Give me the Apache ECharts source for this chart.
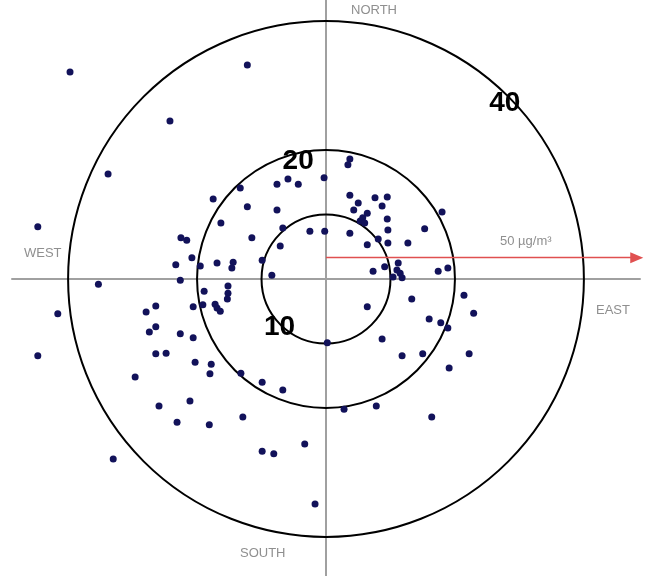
<!DOCTYPE html>
<html>
<head>
<meta charset="utf-8">
<script src="https://cdn.jsdelivr.net/npm/echarts@6/dist/echarts.min.js"></script>
<style>
html, body { margin: 0; padding: 0; background: #fff; }
#chart { width: 646px; height: 576px; }
</style>
</head>
<body>
<div id="chart"></div>
<script>
// concentration vectors, µg/m3 (east component, north component)
var eastValues = [
    -39.7, -24.2, -33.8, -44.7, -22.5, -21.6, -23.3, -12.2, -13.3, -17.5,
    -7.6, -5.9, -4.3, -0.3, -12.2, -7.6, -16.3, -6.7, -2.5, -0.2,
    -11.5, -7.1, -20.8, -19.5, -16.9, -14.4, -14.6, -9.9, -8.4, 3.7,
    3.4, 3.7, 5.0, 7.6, 9.5, 8.7, 4.3, 6.4, 5.7, 5.3,
    6.0, 9.5, 9.6, 18.0, 15.3, 3.7, 8.1, 9.6, 6.4, 12.7,
    7.3, 9.1, 11.2, 11.0, 11.5, 10.4, 11.8, 17.4, 18.9, 6.4,
    13.3, 21.4, 22.9, 16.0, 17.8, 18.9, 8.7, 0.2, 11.8, 15.0,
    22.2, 19.1, 2.8, 7.8, 16.4, -22.6, -18.9, -15.2, -15.2, -15.3,
    -20.6, -19.1, -17.2, -16.9, -16.4, -22.6, -20.6, -20.3, -17.8, -18.0,
    -13.2, -9.9, -6.7, -21.1, -23.1, -18.1, -12.9, -9.9, -8.1, -3.3,
    -1.7, -35.3, -41.6, -44.7, -27.9, -26.4, -27.4, -26.4, -26.4, -24.8,
    -29.6, -25.9, -33.0
];
var northValues = [
    32.1, 24.5, 16.3, 8.1, 6.4, 6.0, 2.2, 33.2, 14.1, 12.4,
    14.7, 15.5, 14.7, 15.7, 11.2, 10.7, 8.7, 7.9, 7.4, 7.4,
    6.4, 5.1, 3.3, 2.0, 2.5, 2.6, 1.7, 2.9, 0.6, 18.6,
    17.7, 13.0, 11.8, 12.6, 12.7, 11.3, 10.7, 10.2, 9.5, 9.0,
    8.7, 9.3, 7.6, 10.4, 7.8, 7.1, 6.2, 5.6, 5.3, 5.6,
    1.2, 1.9, 2.5, 1.4, 0.9, 0.3, 0.2, 1.2, 1.7, -4.3,
    -3.1, -2.5, -5.3, -6.2, -6.8, -7.6, -9.3, -9.9, -11.9, -11.6,
    -11.6, -13.8, -20.2, -19.7, -21.4, -0.2, -1.9, -1.1, -2.2, -3.1,
    -4.3, -4.0, -3.9, -4.5, -5.0, -8.5, -9.1, -12.9, -13.2, -14.7,
    -14.6, -16.0, -17.2, -18.9, -22.2, -22.6, -21.4, -26.7, -27.1, -25.6,
    -34.9, -0.8, -5.4, -11.9, -5.1, -4.2, -8.2, -7.4, -11.6, -11.5,
    -15.2, -19.7, -27.9
];
var ringValues = [10, 20, 40];
var ringLabels = ['10', '20', '40'];
var scaleArrowLength = 48.2;
var scaleArrowLabel = '50 µg/m³';
var directionLabels = ['NORTH', 'WEST', 'EAST', 'SOUTH'];

// where the ring numbers sit: degrees from east, and how far along the radius
var ringLabelAngle = [224, 103, 45];
var ringLabelReach = [1, 0.96, 0.98];

var points = eastValues.map(function (e, i) {
    return [e, northValues[i]];
});

var chart = echarts.init(document.getElementById('chart'));

var grey = '#8f8f8f';
var labelFont = '"Liberation Sans", Arial, sans-serif';

var option = {
    animation: false,
    backgroundColor: '#fff',
    grid: { left: 12, right: 6, top: 0, bottom: 0 },
    xAxis: {
        type: 'value',
        min: -48.7,
        max: 48.7,
        axisLine: { onZero: true, lineStyle: { color: '#a0a0a0', width: 2 } },
        axisTick: { show: false },
        axisLabel: { show: false },
        splitLine: { show: false }
    },
    yAxis: {
        type: 'value',
        min: -46.05,
        max: 43.26,
        axisLine: { onZero: true, lineStyle: { color: '#a0a0a0', width: 2 } },
        axisTick: { show: false },
        axisLabel: { show: false },
        splitLine: { show: false }
    },
    series: [{
        type: 'custom',
        clip: false,
        z: 2,
        data: ringValues.map(function (r, i) { return [r, i]; }),
        renderItem: function (params, api) {
            var r = api.value(0);
            var idx = api.value(1);
            var c = api.coord([0, 0]);
            var e = api.coord([r, 0]);
            var rad = e[0] - c[0];
            var a = ringLabelAngle[idx] * Math.PI / 180;
            var lr = rad * ringLabelReach[idx];
            return {
                type: 'group',
                children: [{
                    type: 'circle',
                    shape: { cx: c[0], cy: c[1], r: rad },
                    style: { fill: 'none', stroke: '#000', lineWidth: 2 }
                }, {
                    type: 'text',
                    z2: 10,
                    style: {
                        x: c[0] + lr * Math.cos(a),
                        y: c[1] - lr * Math.sin(a) + 3,
                        text: ringLabels[idx],
                        fill: '#000',
                        font: 'bold 28px ' + labelFont,
                        align: 'center',
                        verticalAlign: 'middle'
                    }
                }]
            };
        }
    }, {
        type: 'scatter',
        z: 3,
        symbol: 'circle',
        symbolSize: 7,
        itemStyle: { color: '#12125a', opacity: 1 },
        data: points,
        markLine: {
            silent: true,
            symbol: ['none', 'triangle'],
            symbolSize: [11, 13],
            label: { show: false },
            itemStyle: { color: '#d42020' },
            lineStyle: { color: '#e05050', width: 1.3, type: 'solid', opacity: 1 },
            data: [[{ coord: [0, 3.3] }, { coord: [scaleArrowLength, 3.3] }]]
        }
    }],
    graphic: [
        { type: 'text', left: 351, top: 4, style: { text: directionLabels[0], fill: grey, font: '13px ' + labelFont } },
        { type: 'text', left: 24, top: 247, style: { text: directionLabels[1], fill: grey, font: '13px ' + labelFont } },
        { type: 'text', left: 596, top: 304, style: { text: directionLabels[2], fill: grey, font: '13px ' + labelFont } },
        { type: 'text', left: 240, top: 547, style: { text: directionLabels[3], fill: grey, font: '13px ' + labelFont } },
        { type: 'text', left: 500, top: 235, style: { text: scaleArrowLabel, fill: grey, font: '13px ' + labelFont } }
    ]
};

chart.setOption(option);
</script>
</body>
</html>
